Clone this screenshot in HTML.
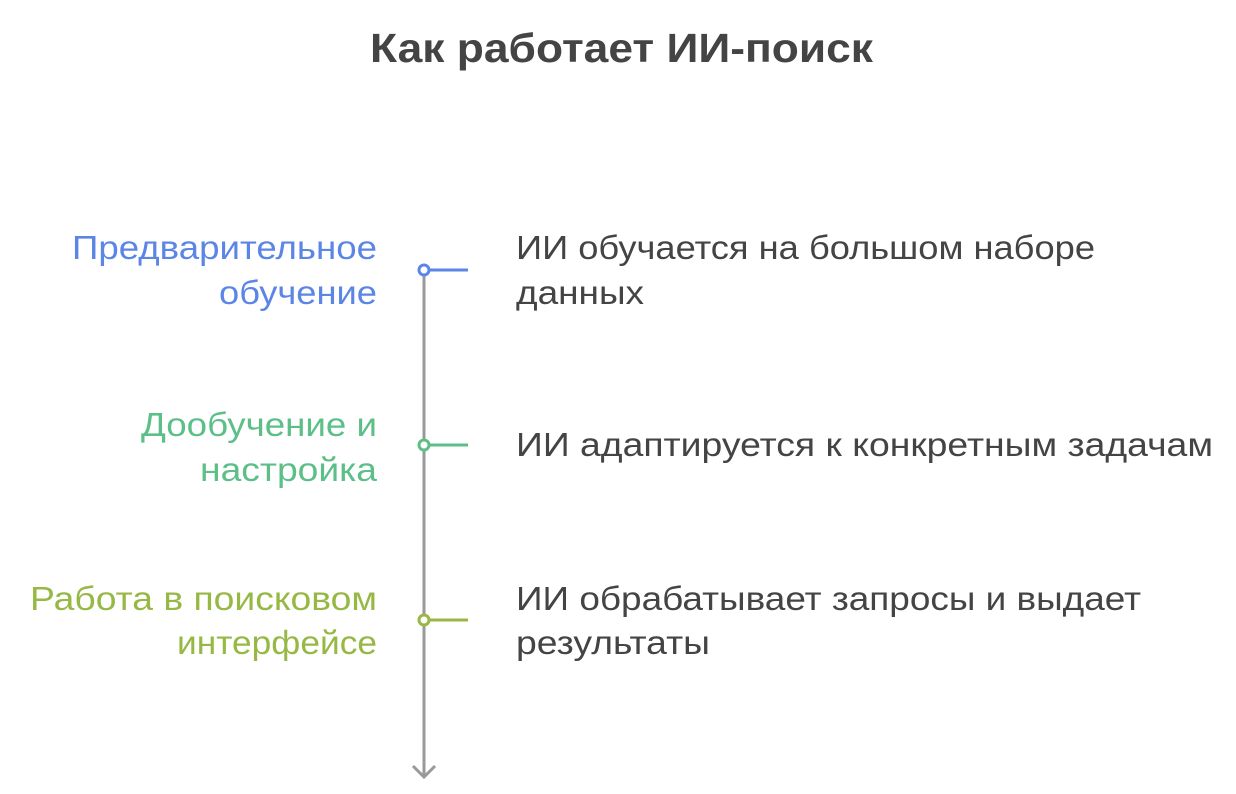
<!DOCTYPE html>
<html><head><meta charset="utf-8"><style>
html,body{margin:0;padding:0;background:#fff;}
svg{display:block;}
text{font-family:"Liberation Sans",Arial,sans-serif;}
</style></head><body>
<svg width="1236" height="794" viewBox="0 0 1236 794" xmlns="http://www.w3.org/2000/svg">
<text x="370" y="62" font-size="41" font-weight="bold" fill="#444" textLength="503" lengthAdjust="spacingAndGlyphs">Как работает ИИ-поиск</text>
<line x1="424" y1="272" x2="424" y2="776" stroke="#999" stroke-width="3"/>
<polyline points="413,766 424,777 435,766" fill="none" stroke="#999" stroke-width="3"/>
<line x1="429" y1="270" x2="468" y2="270" stroke="#5b86e5" stroke-width="3"/>
<circle cx="424" cy="270" r="5" fill="#fff" stroke="#5b86e5" stroke-width="3"/>
<line x1="429" y1="445" x2="468" y2="445" stroke="#5dbf88" stroke-width="3"/>
<circle cx="424" cy="445" r="5" fill="#fff" stroke="#5dbf88" stroke-width="3"/>
<line x1="429" y1="620" x2="468" y2="620" stroke="#98b845" stroke-width="3"/>
<circle cx="424" cy="620" r="5" fill="#fff" stroke="#98b845" stroke-width="3"/>
<g font-size="33">
<text x="72" y="259" fill="#5b86e5" textLength="305" lengthAdjust="spacingAndGlyphs">Предварительное</text>
<text x="219" y="304" fill="#5b86e5" textLength="158" lengthAdjust="spacingAndGlyphs">обучение</text>
<text x="141" y="436" fill="#5dbf88" textLength="236" lengthAdjust="spacingAndGlyphs">Дообучение и</text>
<text x="200" y="481" fill="#5dbf88" textLength="177" lengthAdjust="spacingAndGlyphs">настройка</text>
<text x="30" y="610" fill="#98b845" textLength="347" lengthAdjust="spacingAndGlyphs">Работа в поисковом</text>
<text x="177" y="654" fill="#98b845" textLength="200" lengthAdjust="spacingAndGlyphs">интерфейсе</text>
</g>
<g font-size="33" fill="#444">
<text x="516" y="259" textLength="579" lengthAdjust="spacingAndGlyphs">ИИ обучается на большом наборе</text>
<text x="516" y="304" textLength="128" lengthAdjust="spacingAndGlyphs">данных</text>
<text x="516" y="456" textLength="697" lengthAdjust="spacingAndGlyphs">ИИ адаптируется к конкретным задачам</text>
<text x="516" y="610" textLength="625" lengthAdjust="spacingAndGlyphs">ИИ обрабатывает запросы и выдает</text>
<text x="516" y="654" textLength="194" lengthAdjust="spacingAndGlyphs">результаты</text>
</g>
</svg>
</body></html>
